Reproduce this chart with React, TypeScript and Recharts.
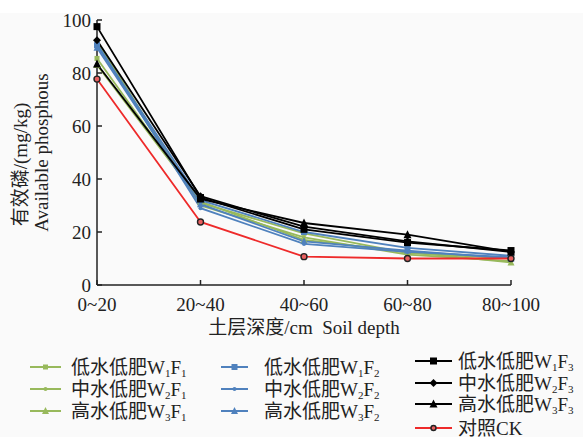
import React from "react";
import { LineChart, Line, XAxis, YAxis } from "recharts";

// soil depth classes
const depths = ["0~20", "20~40", "40~60", "60~80", "80~100"];
const yTicks = [0, 20, 40, 60, 80, 100];

// available phosphorus (mg/kg)
const w1f1 = [85.5, 31, 19.5, 12, 10];
const w2f1 = [92, 30, 18, 11.5, 9];
const w3f1 = [83, 31.5, 17, 12.5, 8.5];
const w1f2 = [90.5, 32, 20, 14, 11];
const w2f2 = [91, 29, 15.5, 12.5, 10.5];
const w3f2 = [89.5, 30.5, 16.5, 13, 10];
const w1f3 = [97.5, 33, 21, 16, 13];
const w2f3 = [92.4, 33.5, 22, 16.5, 12.5];
const w3f3 = [83.4, 32.5, 23.4, 19, 12.5];
const ck = [77.7, 23.8, 10.7, 10, 10];

const GREEN = "#98b95c";
const BLUE = "#4f81bd";
const BLACK = "#000000";
const RED = "#ee2a2a";

const FONT = "'Liberation Serif', 'Noto Sans CJK SC', serif";
const TEXT = "#222";

type Shape = "square" | "dot" | "triangle" | "diamond" | "circle";

type Series = {
  key: string;
  values: number[];
  color: string;
  shape: Shape;
  size: number;
  prefix: string;
  sub1: string;
  sub2: string;
};

const series: Series[] = [
  { key: "w1f1", values: w1f1, color: GREEN, shape: "square", size: 5, prefix: "低水低肥W", sub1: "1", sub2: "1" },
  { key: "w2f1", values: w2f1, color: GREEN, shape: "dot", size: 4, prefix: "中水低肥W", sub1: "2", sub2: "1" },
  { key: "w3f1", values: w3f1, color: GREEN, shape: "triangle", size: 6, prefix: "高水低肥W", sub1: "3", sub2: "1" },
  { key: "w1f2", values: w1f2, color: BLUE, shape: "square", size: 6, prefix: "低水低肥W", sub1: "1", sub2: "2" },
  { key: "w2f2", values: w2f2, color: BLUE, shape: "dot", size: 4, prefix: "中水低肥W", sub1: "2", sub2: "2" },
  { key: "w3f2", values: w3f2, color: BLUE, shape: "triangle", size: 6, prefix: "高水低肥W", sub1: "3", sub2: "2" },
  { key: "ck", values: ck, color: RED, shape: "circle", size: 3, prefix: "对照CK", sub1: "", sub2: "" },
  { key: "w1f3", values: w1f3, color: BLACK, shape: "square", size: 7, prefix: "低水低肥W", sub1: "1", sub2: "3" },
  { key: "w2f3", values: w2f3, color: BLACK, shape: "diamond", size: 8, prefix: "中水低肥W", sub1: "2", sub2: "3" },
  { key: "w3f3", values: w3f3, color: BLACK, shape: "triangle", size: 7, prefix: "高水低肥W", sub1: "3", sub2: "3" },
];

const data = depths.map((d, i) => {
  const row: Record<string, string | number> = { depth: d };
  series.forEach((s) => {
    row[s.key] = s.values[i];
  });
  return row;
});

const Marker = ({ cx, cy, shape, size, color }: { cx: number; cy: number; shape: Shape; size: number; color: string }) => {
  const h = size / 2;
  if (shape === "square")
    return <rect x={cx - h} y={cy - h} width={size} height={size} fill={color} />;
  if (shape === "dot") return <circle cx={cx} cy={cy} r={h} fill={color} />;
  if (shape === "triangle")
    return <polygon points={`${cx},${cy - h - 1} ${cx + h + 0.5},${cy + h} ${cx - h - 0.5},${cy + h}`} fill={color} />;
  if (shape === "diamond")
    return <polygon points={`${cx},${cy - h} ${cx + h},${cy} ${cx},${cy + h} ${cx - h},${cy}`} fill={color} />;
  return <circle cx={cx} cy={cy} r={size} fill="#e86060" stroke="#222" strokeWidth={1.4} />;
};

const makeDot = (s: Series) => (props: any) => {
  if (props.cx == null || props.cy == null) return <g key={props.key} />;
  return (
    <g key={`${s.key}-${props.index}`}>
      <Marker cx={props.cx} cy={props.cy} shape={s.shape} size={s.size} color={s.color} />
    </g>
  );
};

const YTitle = (props: any) => {
  const vb = props.viewBox || {};
  const cy = (vb.y || 20) + (vb.height || 265) / 2;
  return (
    <g fontFamily={FONT} fill={TEXT} fontSize={19}>
      <text x={20} y={cy + 12} textAnchor="middle" dominantBaseline="central" transform={`rotate(-90 20 ${cy + 12})`}>
        有效磷/(mg/kg)
      </text>
      <text x={41} y={cy} textAnchor="middle" dominantBaseline="central" transform={`rotate(-90 41 ${cy})`}>
        Available phosphous
      </text>
    </g>
  );
};

const XTitle = (props: any) => {
  const vb = props.viewBox || {};
  const cx = (vb.x || 97) + (vb.width || 414) / 2;
  return (
    <text x={cx} y={327} textAnchor="middle" dominantBaseline="central" fontFamily={FONT} fontSize={19} fill={TEXT}>
      土层深度/cm{"\u00a0\u00a0"}Soil depth
    </text>
  );
};

// legend slots: [series key, line start x, line end x, text x, row y]
const legendSlots: [string, number, number, number, number][] = [
  ["w1f1", 30, 61, 71, 367],
  ["w2f1", 30, 61, 71, 389],
  ["w3f1", 30, 61, 71, 411],
  ["w1f2", 221, 248, 264, 367],
  ["w2f2", 221, 248, 264, 389],
  ["w3f2", 221, 248, 264, 411],
  ["w1f3", 415, 452, 458, 361],
  ["w2f3", 415, 452, 458, 383],
  ["w3f3", 415, 452, 458, 404],
  ["ck", 415, 452, 458, 428],
];

const LegendBlock = () => (
  <svg width={583} height={437} style={{ position: "absolute", left: 0, top: 0, pointerEvents: "none" }}>
    {legendSlots.map(([key, x1, x2, tx, y]) => {
      const s = series.find((d) => d.key === key)!;
      return (
        <g key={key}>
          <line x1={x1} x2={x2} y1={y} y2={y} stroke={s.color} strokeWidth={2} />
          <Marker cx={(x1 + x2) / 2} cy={y} shape={s.shape} size={s.shape === "circle" ? 2.5 : s.size} color={s.color} />
          <text x={tx} y={y} dominantBaseline="central" fontFamily={FONT} fontSize={19} fill={TEXT}>
            {s.prefix}
            {s.sub1 && (
              <>
                <tspan dy={6} fontSize={11}>{s.sub1}</tspan>
                <tspan dy={-6}>F</tspan>
                <tspan dy={6} fontSize={11}>{s.sub2}</tspan>
              </>
            )}
          </text>
        </g>
      );
    })}
  </svg>
);

export default function App() {
  return (
    <div style={{ position: "absolute", left: 0, top: 0, width: 583, height: 437, background: "#ffffff", overflow: "hidden" }}>
      <div style={{ position: "absolute", left: 0, top: 13, width: 583, height: 424, background: "#fafafa" }} />
      <div style={{ position: "absolute", left: 0, top: 0 }}>
        <LineChart width={583} height={437} data={data} margin={{ top: 20, right: 72, left: 37, bottom: 122 }}>
          <XAxis
            dataKey="depth"
            height={30}
            padding={{ left: 0, right: 0 }}
            interval={0}
            stroke="#222"
            strokeWidth={1.5}
            tickSize={-5}
            tickMargin={18}
            tick={{ fill: TEXT, fontSize: 19, fontFamily: FONT }}
            label={<XTitle />}
          />
          <YAxis
            width={60}
            domain={[0, 100]}
            ticks={yTicks}
            stroke="#222"
            strokeWidth={1.5}
            tickSize={-5}
            tickMargin={11}
            tick={{ fill: TEXT, fontSize: 19, fontFamily: FONT }}
            label={<YTitle />}
          />
          {series.map((s) => (
            <Line
              key={s.key}
              dataKey={s.key}
              stroke={s.color}
              strokeWidth={1.8}
              dot={makeDot(s)}
              activeDot={false}
              isAnimationActive={false}
            />
          ))}
        </LineChart>
      </div>
      <LegendBlock />
    </div>
  );
}
